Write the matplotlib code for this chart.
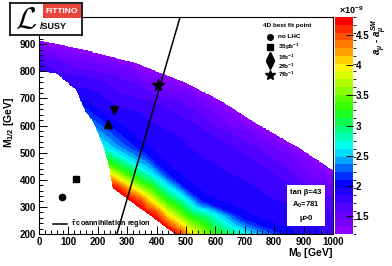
import numpy as np
import matplotlib
matplotlib.use('Agg')
import matplotlib.pyplot as plt
import matplotlib.tri as mtri
from matplotlib.path import Path
from matplotlib.colors import LinearSegmentedColormap, BoundaryNorm
from matplotlib.ticker import MultipleLocator
from matplotlib.patches import Rectangle
from matplotlib.lines import Line2D

plt.rcParams['font.family'] = ['Liberation Sans', 'DejaVu Sans']
plt.rcParams['font.weight'] = 'bold'
plt.rcParams['mathtext.fontset'] = 'custom'
plt.rcParams['mathtext.rm'] = 'Liberation Sans:bold'
plt.rcParams['mathtext.it'] = 'Liberation Sans:italic:bold'
plt.rcParams['mathtext.bf'] = 'Liberation Sans:bold'
plt.rcParams['mathtext.sf'] = 'Liberation Sans:bold'

# ---------------- data ----------------
# boundary of the coloured (allowed) region, M0 / M1/2 in GeV
region_m0 = [0, 150, 330, 500, 620, 735, 888, 1000, 1000, 463, 252, 248, 240,
             218, 184, 160, 126, 105, 58, 0]
region_m12 = [914, 880, 830, 757, 690, 610, 515, 434, 200, 200, 368, 380, 440,
              526, 614, 647, 731, 750, 793, 800]

# samples of a_mu - a_mu^SM (x 1e-9) read along colour bands
sample_m0 = [463, 420, 360, 300, 252,
             490, 400, 345, 280, 258,
             520, 440, 380, 320, 270, 247,
             600, 510, 430, 350, 290, 241,
             717, 600, 490, 390, 300, 218,
             854, 700, 560, 450, 350, 250, 150,
             1000, 850, 700, 550, 400, 200, 0,
             1000, 850, 700, 500, 300, 0,
             1000, 888, 735, 500, 330, 0,
             1000, 0, 120,
             0, 1000, 1000, 0, 200]
sample_m12 = [200, 234, 282, 330, 368,
              200, 280, 326, 372, 385,
              200, 270, 326, 370, 405, 420,
              200, 265, 326, 390, 430, 460,
              200, 275, 340, 420, 480, 530,
              200, 263, 326, 420, 520, 610, 690,
              260, 370, 480, 580, 670, 760, 830,
              370, 480, 575, 710, 800, 880,
              434, 515, 610, 757, 830, 914,
              200, 800, 740,
              1000, 1000, 500, 200, 200]
sample_amu = [4.8, 4.8, 4.8, 4.8, 4.8,
              4.5, 4.5, 4.5, 4.5, 4.5,
              4.0, 4.0, 4.0, 4.0, 4.0, 4.0,
              3.3, 3.3, 3.3, 3.3, 3.3, 3.3,
              2.6, 2.6, 2.6, 2.6, 2.6, 2.6,
              2.0, 2.0, 2.0, 2.0, 2.0, 2.0, 2.0,
              1.75, 1.75, 1.75, 1.75, 1.75, 1.75, 1.75,
              1.5, 1.5, 1.5, 1.5, 1.5, 1.5,
              1.25, 1.25, 1.25, 1.25, 1.25, 1.25,
              1.8, 1.85, 1.85,
              1.0, 1.0, 1.1, 5.0, 5.0]

# 4D best fit points
fit_labels = ['no LHC', '35pb$^{-1}$', '1fb$^{-1}$', '2fb$^{-1}$', '7fb$^{-1}$']
fit_m0 = [78, 126, 235, 255, 405]
fit_m12 = [337, 404, 604, 656, 748]
fit_markers = ['o', 's', '^', 'v', '*']
fit_sizes = [4.5, 4.5, 6, 6, 8.5]

# stau coannihilation line
coann_m0 = [265, 480]
coann_m12 = [200, 1000]

cbar_ticks = [1.5, 2, 2.5, 3, 3.5, 4, 4.5]
z_min, z_max, n_levels = 1.2, 4.8, 28

# ---------------- figure ----------------
W, H = 392, 266
fig = plt.figure(figsize=(W / 100, H / 100), dpi=100)


def fx(px):
    return px / W


def fy(py):
    return 1 - py / H


ax_l, ax_r, ax_t, ax_b = 39, 333, 17, 234
ax = fig.add_axes([fx(ax_l), fy(ax_b), (ax_r - ax_l) / W, (ax_b - ax_t) / H])

# colour field
m0g = np.linspace(0, 1000, 501)
m12g = np.linspace(200, 1000, 401)
M0, M12 = np.meshgrid(m0g, m12g)
tri = mtri.Triangulation(np.array(sample_m0, float), np.array(sample_m12, float))
interp = mtri.LinearTriInterpolator(tri, np.array(sample_amu, float))
Z = interp(M0, M12)
path = Path(np.column_stack([region_m0, region_m12]))
inside = path.contains_points(np.column_stack([M0.ravel(), M12.ravel()])).reshape(M0.shape)
Z = np.ma.masked_where(~inside | np.ma.getmaskarray(Z), Z)

cmap = LinearSegmentedColormap.from_list('rootrainbow', [
    (0.00, (0.55, 0.0, 1.0)),
    (0.12, (0.30, 0.0, 1.0)),
    (0.23, (0.0, 0.0, 1.0)),
    (0.31, (0.0, 0.5, 1.0)),
    (0.39, (0.0, 1.0, 1.0)),
    (0.48, (0.0, 1.0, 0.5)),
    (0.58, (0.15, 1.0, 0.0)),
    (0.68, (0.6, 1.0, 0.0)),
    (0.77, (1.0, 1.0, 0.0)),
    (0.88, (1.0, 0.5, 0.0)),
    (1.00, (1.0, 0.0, 0.0)),
])
levels = np.linspace(z_min, z_max, n_levels + 1)
norm = BoundaryNorm(levels, cmap.N)
mesh = ax.pcolormesh(M0, M12, Z, cmap=cmap, norm=norm, shading='nearest', rasterized=True)

ax.plot(coann_m0, coann_m12, color='black', lw=1.1)
for m0, m12, mk, ms in zip(fit_m0, fit_m12, fit_markers, fit_sizes):
    ax.plot([m0], [m12], marker=mk, color='black', ms=ms, mec='black', ls='none')

ax.set_xlim(0, 1000)
ax.set_ylim(200, 1000)
ax.xaxis.set_major_locator(MultipleLocator(100))
ax.xaxis.set_minor_locator(MultipleLocator(20))
ax.yaxis.set_major_locator(MultipleLocator(100))
ax.yaxis.set_minor_locator(MultipleLocator(20))
ax.tick_params(which='major', direction='in', length=6, width=0.7, labelsize=7, pad=2)
ax.tick_params(which='minor', direction='in', length=3, width=0.7)
ax.set_yticks([200, 300, 400, 500, 600, 700, 800, 900])
for s in ax.spines.values():
    s.set_linewidth(0.8)
for lab in ax.get_xticklabels() + ax.get_yticklabels():
    lab.set_fontweight('bold')

# axis titles
fig.text(fx(333), fy(253), 'M$_0$ [GeV]', ha='right', va='center', fontsize=7.5, fontweight='bold')
fig.text(fx(9), fy(122), 'M$_{1/2}$ [GeV]', ha='center', va='center', rotation=90,
         fontsize=7.5, fontweight='bold')

# colour bar
cax = fig.add_axes([fx(335), fy(ax_b), 18 / W, (ax_b - ax_t) / H])
cb = fig.colorbar(mesh, cax=cax, ticks=cbar_ticks)
cb.outline.set_visible(False)
cax.tick_params(direction='in', length=5, width=0.7, labelsize=7, pad=2, colors='black')
cax.set_yticklabels(['%g' % t for t in cbar_ticks])
for lab in cax.get_yticklabels():
    lab.set_fontweight('bold')
fig.text(fx(339), fy(10), '×10$^{-9}$', ha='left', va='center', fontsize=6.5, fontweight='bold')
fig.text(fx(379), fy(18), r'$a_\mu$ - $a_\mu^{SM}$', ha='center', va='top', rotation=90,
         fontsize=7, fontweight='bold')

# best-fit legend
fig.text(fx(263), fy(26), '4D best fit point', ha='left', va='center', fontsize=4.6, fontweight='bold')
leg_y = [37, 47, 56, 65, 75]
txt_y = [37, 47, 57, 66, 74]
for lab, mk, ms, my, ty in zip(fit_labels, fit_markers, fit_sizes, leg_y, txt_y):
    fig.add_artist(Line2D([fx(270)], [fy(my)], marker=mk, color='black', ms=ms * 0.9,
                          ls='none', transform=fig.transFigure))
    fig.text(fx(278), fy(ty), lab, ha='left', va='center', fontsize=4.6, fontweight='bold')

# parameter box
fig.add_artist(Rectangle((fx(287), fy(226)), 38 / W, 41 / H, facecolor='white',
                         edgecolor='none', transform=fig.transFigure))
fig.text(fx(306), fy(193), 'tan β=43', ha='center', va='center', fontsize=5.5, fontweight='bold')
fig.text(fx(306), fy(205), 'A$_0$=781', ha='center', va='center', fontsize=5.5, fontweight='bold')
fig.text(fx(306), fy(219), 'μ>0', ha='center', va='center', fontsize=5.5, fontweight='bold')

# coannihilation legend
fig.add_artist(Line2D([fx(53), fx(67)], [fy(224), fy(224)], color='black', lw=1.1,
                      transform=fig.transFigure))
fig.text(fx(71), fy(224), r'$\tilde{\tau}$ coannihilation region', ha='left', va='center',
         fontsize=5.2, fontweight='bold')

# logo
lax = fig.add_axes([fx(10), fy(35), 72 / W, 32 / H])
lax.set_xlim(0, 1)
lax.set_ylim(0, 1)
lax.set_xticks([])
lax.set_yticks([])
lax.set_facecolor('white')
for s in lax.spines.values():
    s.set_linewidth(1.2)
lax.add_patch(Rectangle((0.46, 0.52), 0.52, 0.46, facecolor='#e8463c', edgecolor='none'))
lax.text(0.72, 0.74, 'FITTINO', color='white', ha='center', va='center', fontsize=6,
         fontweight='bold')
lax.text(0.42, 0.26, '/SUSY', color='black', ha='left', va='center', fontsize=6.5,
         fontweight='bold')
lax.text(0.22, 0.48, r'$\mathcal{L}$', ha='center', va='center', fontsize=22,
         math_fontfamily='cm')

fig.savefig('out.png', dpi=100)
